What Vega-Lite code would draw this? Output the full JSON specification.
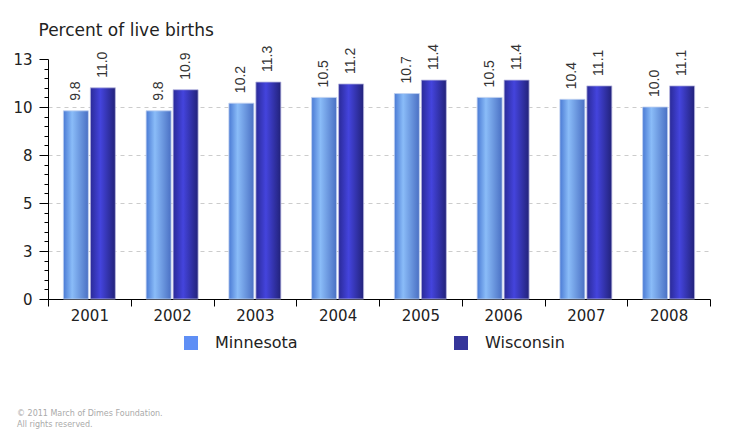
{
  "$schema": "https://vega.github.io/schema/vega-lite/v6.json",
  "width": 662,
  "height": 240,
  "autosize": {"type": "none"},
  "padding": {"left": 48, "top": 59, "right": 23, "bottom": 136},
  "background": "white",
  "config": {"view": {"stroke": null}},
  "title": {
    "text": ["© 2011 March of Dimes Foundation.", "All rights reserved."],
    "orient": "bottom",
    "anchor": "start",
    "frame": "group",
    "font": "DejaVu Sans",
    "fontSize": 8,
    "fontWeight": "normal",
    "color": "#aaaaaa",
    "lineHeight": 11,
    "dx": -31,
    "offset": 59
  },
  "data": {
    "values": [
      {"year": "2001", "state": "Minnesota", "value": 9.8},
      {"year": "2002", "state": "Minnesota", "value": 9.8},
      {"year": "2003", "state": "Minnesota", "value": 10.2},
      {"year": "2004", "state": "Minnesota", "value": 10.5},
      {"year": "2005", "state": "Minnesota", "value": 10.7},
      {"year": "2006", "state": "Minnesota", "value": 10.5},
      {"year": "2007", "state": "Minnesota", "value": 10.4},
      {"year": "2008", "state": "Minnesota", "value": 10.0},
      {"year": "2001", "state": "Wisconsin", "value": 11.0},
      {"year": "2002", "state": "Wisconsin", "value": 10.9},
      {"year": "2003", "state": "Wisconsin", "value": 11.3},
      {"year": "2004", "state": "Wisconsin", "value": 11.2},
      {"year": "2005", "state": "Wisconsin", "value": 11.4},
      {"year": "2006", "state": "Wisconsin", "value": 11.4},
      {"year": "2007", "state": "Wisconsin", "value": 11.1},
      {"year": "2008", "state": "Wisconsin", "value": 11.1}
    ]
  },
  "encoding": {
    "x": {
      "field": "year",
      "type": "nominal",
      "scale": {"paddingInner": 0, "paddingOuter": 0},
      "axis": {
        "title": null,
        "labelAngle": 0,
        "labelFont": "DejaVu Sans",
        "labelFontSize": 15,
        "labelColor": "#222222",
        "tickBand": "extent",
        "tickSize": 7,
        "tickColor": "black",
        "domainColor": "black",
        "labelPadding": 2,
        "grid": false
      }
    },
    "xOffset": {
      "field": "state",
      "type": "nominal",
      "sort": ["Minnesota", "Wisconsin"],
      "scale": {"paddingInner": 0.074, "paddingOuter": 0.57}
    },
    "y": {
      "field": "value",
      "type": "quantitative",
      "scale": {"domain": [0, 12.5], "nice": false, "zero": true},
      "axis": {
        "values": [0, 0.5, 1, 1.5, 2, 2.5, 3, 3.5, 4, 4.5, 5, 5.5, 6, 6.5, 7, 7.5, 8, 8.5, 9, 9.5, 10, 10.5, 11, 11.5, 12, 12.5],
        "labelExpr": "datum.value % 2.5 === 0 ? format(datum.value, '.0f') : ''",
        "labelOverlap": false,
        "labelFlush": false,
        "tickSize": {"condition": {"test": "datum.value % 2.5 === 0", "value": 9}, "value": 4},
        "grid": true,
        "gridDash": [4, 4],
        "gridColor": "#cccccc",
        "gridOpacity": {"condition": {"test": "datum.value % 2.5 === 0 && datum.value > 0 && datum.value < 12.5", "value": 1}, "value": 0},
        "domainColor": "black",
        "tickColor": "black",
        "labelFont": "DejaVu Sans",
        "labelFontSize": 15,
        "labelColor": "#222222",
        "labelPadding": 7,
        "title": "Percent of live births",
        "titleAngle": 0,
        "titleAlign": "left",
        "titleBaseline": "alphabetic",
        "titleX": -10,
        "titleY": -24,
        "titleFont": "DejaVu Sans",
        "titleFontSize": 17,
        "titleFontWeight": "normal",
        "titleColor": "#222222"
      }
    }
  },
  "layer": [
    {
      "transform": [{"filter": "datum.state === 'Minnesota'"}],
      "mark": {
        "type": "bar",
        "stroke": "#c0d0f0",
        "strokeWidth": 0.8,
        "color": {
          "gradient": "linear", "x1": 0, "x2": 1, "y1": 0, "y2": 0,
          "stops": [
            {"offset": 0, "color": "#4a7ad4"},
            {"offset": 0.35, "color": "#8abcf8"},
            {"offset": 1, "color": "#4a70c4"}
          ]
        }
      }
    },
    {
      "transform": [{"filter": "datum.state === 'Wisconsin'"}],
      "mark": {
        "type": "bar",
        "stroke": "#b8b8e0",
        "strokeWidth": 0.8,
        "color": {
          "gradient": "linear", "x1": 0, "x2": 1, "y1": 0, "y2": 0,
          "stops": [
            {"offset": 0, "color": "#2a2a98"},
            {"offset": 0.4, "color": "#4444dd"},
            {"offset": 1, "color": "#22227a"}
          ]
        }
      }
    },
    {
      "mark": {
        "type": "text",
        "angle": 270,
        "align": "left",
        "baseline": "middle",
        "dx": 10,
        "font": "Liberation Sans",
        "fontSize": 14,
        "color": "#333333"
      },
      "encoding": {
        "text": {"field": "value", "type": "quantitative", "format": ".1f"}
      }
    },
    {
      "mark": {"type": "square", "opacity": 0},
      "encoding": {
        "color": {
          "field": "state",
          "type": "nominal",
          "scale": {"domain": ["Minnesota", "Wisconsin"], "range": ["#5f8ff5", "#35359a"]},
          "legend": {
            "title": null,
            "orient": "none",
            "legendX": 135,
            "legendY": 276,
            "direction": "horizontal",
            "symbolType": "square",
            "symbolSize": 196,
            "symbolOpacity": 1,
            "symbolStrokeWidth": 0,
            "labelFont": "DejaVu Sans",
            "labelFontSize": 16,
            "labelColor": "#222222",
            "labelOffset": 16,
            "columnPadding": 155
          }
        }
      }
    }
  ]
}
